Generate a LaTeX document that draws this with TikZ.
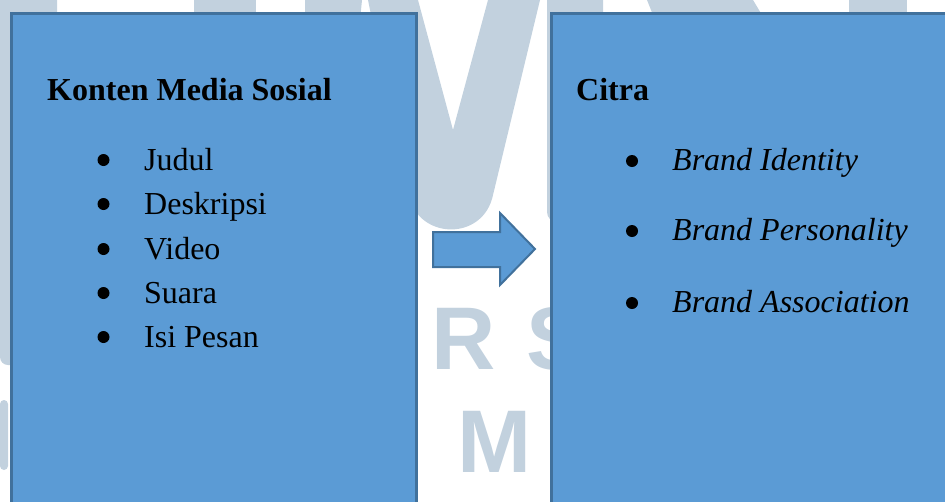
\documentclass[tikz,border=0pt]{standalone}
\usepackage{fontspec}
\setmainfont{Liberation Serif}
\newfontfamily\wmfont{Liberation Sans}
\definecolor{boxblue}{HTML}{5B9BD5}
\definecolor{boxline}{HTML}{41719C}
\definecolor{wmgrey}{HTML}{C2D1DE}

\begin{document}
\begin{tikzpicture}[x=1pt,y=-1pt,
        box/.style={draw=boxline,line width=2.5pt,fill=boxblue,anchor=north west,inner sep=0},
        dot/.style={circle,fill=black,minimum size=12pt,inner sep=0},
        entry/.style={anchor=base west,inner sep=0,font=\fontsize{32}{38}\selectfont},
        wm/.style={anchor=base west,inner sep=0,text=wmgrey,font=\wmfont\bfseries\fontsize{89}{100}\selectfont}]
	\useasboundingbox (0,0) rectangle (945,501);
	\clip (0,0) rectangle (945,501);
	% watermark in the background
	\fill[wmgrey,rounded corners=8pt] (0,-10) rectangle (57,365);
	\fill[wmgrey,rounded corners=4pt] (0,400) rectangle (8,470);
	\fill[wmgrey] (194,0) rectangle (256,20);
	\fill[wmgrey] (305,0) -- (362,0) -- (360,20) -- (305,20) -- cycle;
	\fill[wmgrey] (368,0) -- (418,0) -- (453,130) -- (488,0) -- (540,0) -- (493,195)
		.. controls (484,238) and (428,240) .. (412,205) -- (380,60) -- cycle;
	\fill[wmgrey,rounded corners=10pt] (547,-10) rectangle (603,222);
	\fill[wmgrey] (647,0) -- (753,0) -- (765,20) -- (655,20) -- cycle;
	\fill[wmgrey] (849,0) rectangle (907,20);
	\node[wm] (wmr) at (431,369) {R};
	\node[wm] (wms) at (526,369) {S};
	\node[wm] (wmm) at (457,472) {M};
	% the two boxes
	\node[box,minimum width=405pt,minimum height=520pt] (konten) at (10,12) {};
	\node[box,minimum width=420pt,minimum height=520pt] (citra) at (550,12) {};
	% block arrow between them
	\draw[boxline,line width=2pt,fill=boxblue,line join=miter]
		(433,232) -- (500,232) -- (500,213) -- (535,249) -- (500,285) -- (500,267) -- (433,267) -- cycle;
	% left list
	\node[entry,font=\bfseries\fontsize{32}{38}\selectfont] (kontentitle) at (47,100) {Konten Media Sosial};
	\node[dot] (d1) at (103.5,160) {};
	\node[dot] (d2) at (103.5,204) {};
	\node[dot] (d3) at (103.5,249) {};
	\node[dot] (d4) at (103.5,293) {};
	\node[dot] (d5) at (103.5,337) {};
	\node[entry] (judul) at (144,170) {Judul};
	\node[entry] (deskripsi) at (144,214) {Deskripsi};
	\node[entry] (video) at (144,259) {Video};
	\node[entry] (suara) at (144,303) {Suara};
	\node[entry] (isipesan) at (144,347) {Isi Pesan};
	% right list
	\node[entry,font=\bfseries\fontsize{32}{38}\selectfont] (citratitle) at (576,100) {Citra};
	\node[dot] (e1) at (632,161) {};
	\node[dot] (e2) at (632,231) {};
	\node[dot] (e3) at (632,303) {};
	\node[entry] (identity) at (672,170) {\itshape Brand Identity};
	\node[entry] (personality) at (672,240) {\itshape Brand Personality};
	\node[entry] (association) at (672,312) {\itshape Brand Association};
\end{tikzpicture}
\end{document}
